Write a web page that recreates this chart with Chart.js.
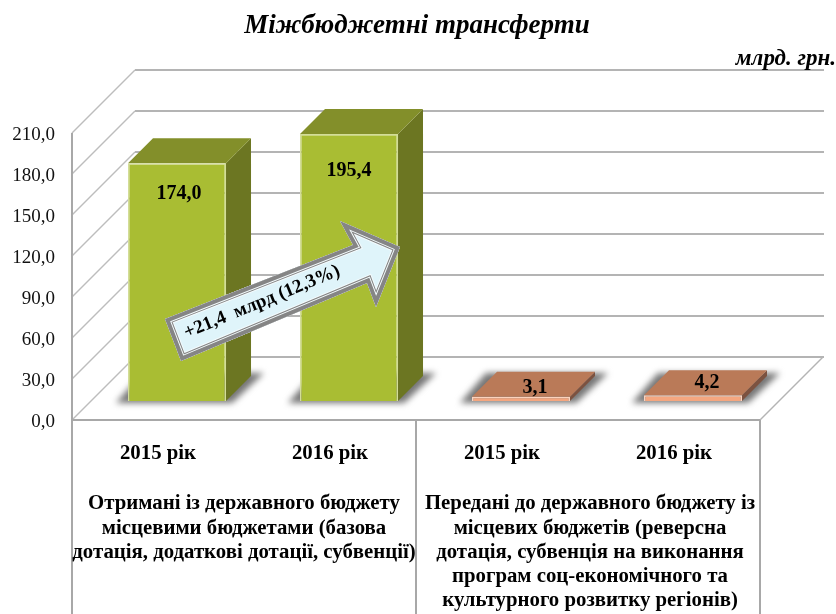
<!DOCTYPE html>
<html><head><meta charset="utf-8">
<style>html,body{margin:0;padding:0;background:#fff}canvas{display:block;filter:blur(0.35px)}</style>
<script src="https://cdn.jsdelivr.net/npm/chart.js@4"></script></head>
<body><div style="width:836px;height:614px"><canvas id="c" width="836" height="614"></canvas></div>
<script>
const categories = ["2015 рік","2016 рік","2015 рік","2016 рік"];
const values = [174.0,195.4,3.1,4.2];
const groupOne = ["Отримані із державного бюджету","місцевими бюджетами (базова","дотація, додаткові дотації, субвенції)"];
const groupTwo = ["Передані до державного бюджету із","місцевих бюджетів (реверсна","дотація, субвенція на виконання","програм соц-економічного та","культурного розвитку регіонів)"];
const titleText = "Міжбюджетні трансферти";
const unitText = "млрд. грн.";
const arrowText = "+21,4  млрд (12,3%)";
const frontColors = ["#A9BD33","#A9BD33","#F4A67F","#F4A67F"];
const edgeColors = ["#D3DD98","#D3DD98","#FBD3BE","#FBD3BE"];
const topColors = ["#838F2A","#838F2A","#BA7A58","#BA7A58"];
const sideColors = ["#6C7622","#6C7622","#7C5240","#7C5240"];
const fmt = v => v.toFixed(1).replace(".", ",");
const SERIF = '"Liberation Serif","Times New Roman",serif';
const WALL = 63, LIFT = 19, DEPTH = 25;

function poly(ctx, pts){ ctx.beginPath(); pts.forEach((p,i)=> i?ctx.lineTo(p[0],p[1]):ctx.moveTo(p[0],p[1])); ctx.closePath(); }
function line(ctx,x1,y1,x2,y2){ ctx.beginPath(); ctx.moveTo(x1,y1); ctx.lineTo(x2,y2); ctx.stroke(); }

const scene = {
  id:"scene",
  beforeDatasetsDraw(chart){
    const {ctx,chartArea:a,scales:{y}} = chart;
    ctx.save();
    y.ticks.forEach(t=>{
      const py = y.getPixelForValue(t.value);
      ctx.strokeStyle="#B4B4B4"; ctx.lineWidth=2;
      line(ctx,a.left+WALL,py-WALL,a.right+WALL+1,py-WALL);
      ctx.strokeStyle="#BDBDBD"; ctx.lineWidth=1.5;
      line(ctx,a.left,py,a.left+WALL,py-WALL);
    });
    ctx.strokeStyle="#B4B4B4"; ctx.lineWidth=1.5;
    line(ctx,a.right,a.bottom,a.right+WALL,a.bottom-WALL);
    ctx.strokeStyle="#A8A8A8"; ctx.lineWidth=2;
    line(ctx,a.left,a.top,a.left,614);
    line(ctx,a.left,a.bottom,a.right,a.bottom);
    line(ctx,a.right,a.bottom,a.right,614);
    line(ctx,(a.left+a.right)/2,a.bottom,(a.left+a.right)/2,614);
    ctx.translate(LIFT,-LIFT);
    const bars = chart.getDatasetMeta(0).data;
    bars.forEach(b=>{
      const l=b.x-b.width/2, r=b.x+b.width/2;
      ctx.save();
      ctx.filter="blur(3px)"; ctx.fillStyle="#767676";
      poly(ctx,[[l-12,b.base+2],[r+6,b.base+2],[r+38,b.base-28],[l+14,b.base-28]]);
      ctx.fill(); ctx.restore();
    });
    bars.forEach((b,i)=>{
      const l=b.x-b.width/2, r=b.x+b.width/2;
      ctx.fillStyle=sideColors[i];
      poly(ctx,[[r,b.y],[r+DEPTH,b.y-DEPTH],[r+DEPTH,b.base-DEPTH],[r,b.base]]); ctx.fill();
      ctx.fillStyle=topColors[i];
      poly(ctx,[[l,b.y],[l+DEPTH,b.y-DEPTH],[r+DEPTH,b.y-DEPTH],[r,b.y]]); ctx.fill();
    });
    // the transform is undone in afterDatasetsDraw
  },
  afterDatasetsDraw(chart){
    const {ctx,chartArea:a} = chart;
    ctx.restore();
    ctx.save();
    const bars = chart.getDatasetMeta(0).data;
    ctx.fillStyle="#000"; ctx.textAlign="center"; ctx.textBaseline="middle";
    ctx.font='bold 20px '+SERIF;
    const labelShift=[[21,12],[19,18],[33,-28],[33,-31]];
    bars.forEach((b,i)=>{
      ctx.fillText(fmt(values[i]), b.x+labelShift[i][0], b.y+labelShift[i][1]);
    });
    // callout arrow
    const pts=[[165,319],[353,245],[340,221],[400,247],[376,307],[367,283],[181,361]];
    ctx.save();
    poly(ctx,pts); ctx.fillStyle="#DFF4FA"; ctx.fill(); ctx.clip();
    ctx.lineJoin="miter"; ctx.miterLimit=10;
    [["#F4FBFD",14],["#858585",12],["#F4FBFD",10],["#858585",8]].forEach(s=>{
      poly(ctx,pts); ctx.strokeStyle=s[0]; ctx.lineWidth=s[1]; ctx.stroke();
    });
    ctx.restore();
    ctx.save();
    ctx.translate(262,302); ctx.rotate(-22.3*Math.PI/180);
    ctx.font='bold 19px '+SERIF; ctx.fillStyle="#000";
    ctx.fillText(arrowText,0,0);
    ctx.restore();
    // titles
    ctx.font='italic bold 27px '+SERIF;
    ctx.fillText(titleText,417,26);
    ctx.font='italic bold 23px '+SERIF; ctx.textAlign="right";
    ctx.fillText(unitText,836,59);
    // group captions
    ctx.textAlign="center"; ctx.font='bold 20.8px '+SERIF;
    const step=24.2, y0=504;
    groupOne.forEach((t,i)=>ctx.fillText(t,244,y0+i*step));
    groupTwo.forEach((t,i)=>ctx.fillText(t,590,y0+i*step));
    ctx.restore();
  }
};

new Chart(document.getElementById("c"),{
  type:"bar",
  data:{labels:categories,datasets:[{data:values,backgroundColor:frontColors,borderColor:edgeColors,borderWidth:1.5,barPercentage:1,categoryPercentage:0.57}]},
  options:{
    responsive:false,animation:false,
    layout:{padding:{top:133,right:76,left:0,bottom:0}},
    plugins:{legend:{display:false},tooltip:{enabled:false}},
    scales:{
      x:{afterFit(s){s.height=194;},grid:{display:false},border:{display:false},
         ticks:{color:"#000",font:{family:SERIF,size:20.8,weight:"bold"},padding:13,maxRotation:0}},
      y:{min:0,max:210,afterFit(s){s.width=72;},grid:{display:false},border:{display:false},
         ticks:{stepSize:30,color:"#111",font:{family:SERIF,size:19},padding:9,labelOffset:2,callback:v=>fmt(v)}}
    }
  },
  plugins:[scene]
});
</script></body></html>
